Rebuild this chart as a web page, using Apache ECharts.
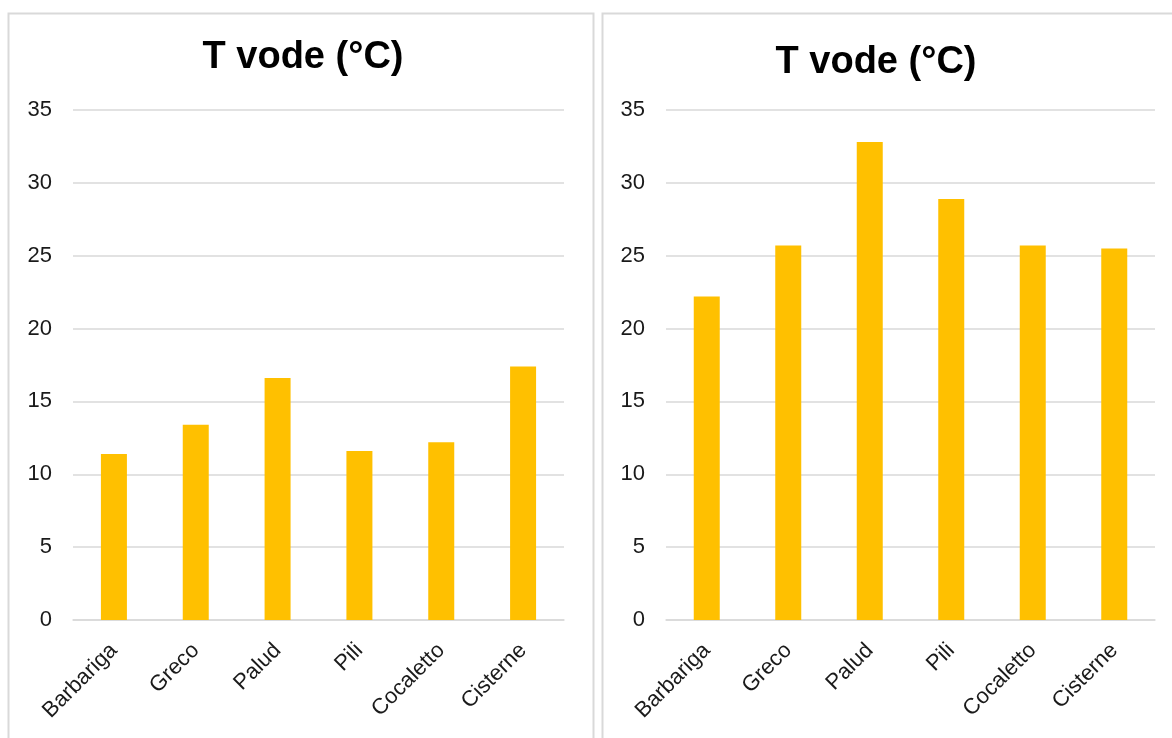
<!DOCTYPE html>
<html>
<head>
<meta charset="utf-8">
<script src="https://cdn.jsdelivr.net/npm/echarts@6/dist/echarts.min.js"></script>
<style>
html,body{margin:0;padding:0;background:#fff;}
#c{width:1172px;height:738px;}
</style>
</head>
<body>
<div id="c"></div>
<script>
const categories = ['Barbariga', 'Greco', 'Palud', 'Pili', 'Cocaletto', 'Cisterne'];
const valuesLeft = [11.4, 13.4, 16.6, 11.6, 12.2, 17.4];
const valuesRight = [22.2, 25.7, 32.8, 28.9, 25.7, 25.5];
const titleText = 'T vode (°C)';

const chart = echarts.init(document.getElementById('c'), null, {renderer: 'canvas'});
const font = 'Liberation Sans, Arial, sans-serif';
const gridColor = '#D9D9D9';
const textColor = '#1a1a1a';

function yAxis(idx) {
  return {
    type: 'value', gridIndex: idx, min: 0, max: 35, interval: 5,
    axisLine: {show: false}, axisTick: {show: false},
    axisLabel: {fontSize: 22, color: textColor, fontFamily: font, margin: 21},
    splitLine: {lineStyle: {color: gridColor, width: 1.5}}
  };
}
function xAxis(idx) {
  return {
    type: 'category', gridIndex: idx, data: categories,
    axisLine: {lineStyle: {color: gridColor, width: 1.5}},
    axisTick: {show: false},
    axisLabel: {fontSize: 22, color: textColor, fontFamily: font, rotate: 45, margin: 27, interval: 0}
  };
}

chart.setOption({
  animation: false,
  title: [
    {text: titleText, left: 298, top: 34, textAlign: 'center',
     textStyle: {fontSize: 38, fontWeight: 'bold', color: '#000', fontFamily: font}},
    {text: titleText, left: 871, top: 39, textAlign: 'center',
     textStyle: {fontSize: 38, fontWeight: 'bold', color: '#000', fontFamily: font}}
  ],
  graphic: [
    {type: 'rect', shape: {x: 8.5, y: 13.5, width: 585, height: 740}, style: {fill: null, stroke: gridColor, lineWidth: 2}, silent: true},
    {type: 'rect', shape: {x: 602.5, y: 13.5, width: 590, height: 740}, style: {fill: null, stroke: gridColor, lineWidth: 2}, silent: true}
  ],
  grid: [
    {left: 73, right: 608, top: 110, bottom: 118},
    {left: 666, right: 17, top: 110, bottom: 118}
  ],
  xAxis: [xAxis(0), xAxis(1)],
  yAxis: [yAxis(0), yAxis(1)],
  series: [
    {type: 'bar', xAxisIndex: 0, yAxisIndex: 0, data: valuesLeft, barWidth: 26, itemStyle: {color: '#FFC000'}},
    {type: 'bar', xAxisIndex: 1, yAxisIndex: 1, data: valuesRight, barWidth: 26, itemStyle: {color: '#FFC000'}}
  ]
});
</script>
</body>
</html>
